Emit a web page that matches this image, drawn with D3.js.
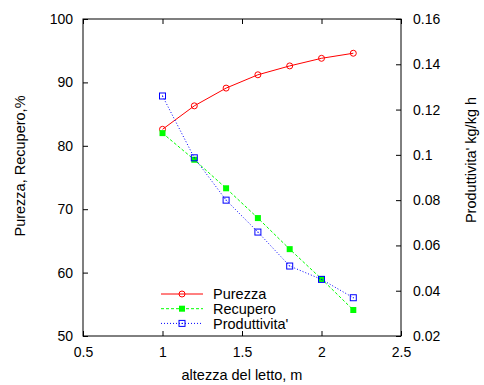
<!DOCTYPE html>
<html>
<head>
<meta charset="utf-8">
<script src="https://cdn.jsdelivr.net/npm/d3@7"></script>
<style>
body { margin: 0; background: #fff; }
text { font-family: "Liberation Sans", Arial, sans-serif; }
</style>
</head>
<body>
<div class="chart"></div>
<script>
var width = 484,
    height = 385;

// altezza del letto (m)
var altezza = [1.0, 1.2, 1.4, 1.6, 1.8, 2.0, 2.2];
// left axis, %
var purezza = [82.6, 86.3, 89.1, 91.2, 92.6, 93.8, 94.6];
var recupero = [82.0, 77.8, 73.3, 68.6, 63.7, 59.0, 54.1];
// right axis, kg/kg h
var produttivita = [0.126, 0.0987, 0.080, 0.0659, 0.0509, 0.045, 0.0369];

var xTicks = [0.5, 1, 1.5, 2, 2.5];
var yTicks = [50, 60, 70, 80, 90, 100];
var y2Ticks = [0.02, 0.04, 0.06, 0.08, 0.1, 0.12, 0.14, 0.16];
var seriesNames = ["Purezza", "Recupero", "Produttivita'"];

// plot box ("top" is taken by window.top)
var pLeft = 83, pRight = 401, pTop = 19, pBottom = 336;
var fs = 14, fsTitle = 14.5;

var svg = d3.select(".chart").append("svg")
    .attr("width", width)
    .attr("height", height);

var x = d3.scaleLinear().domain([0.5, 2.5]).range([pLeft, pRight]);
var y = d3.scaleLinear().domain([50, 100]).range([pBottom, pTop]);
var y2 = d3.scaleLinear().domain([0.02, 0.16]).range([pBottom, pTop]);

function styleAxis(g, showText){
    g.select(".domain").remove();
    g.selectAll("line").attr("stroke", "#000");
    g.selectAll("text").attr("font-size", fs).attr("fill", "#000")
      .style("font-family", "'Liberation Sans', Arial, sans-serif");
    if (!showText) g.selectAll("text").remove();
}

svg.append("g").attr("transform", "translate(0," + pBottom + ")")
    .call(d3.axisBottom(x).tickValues(xTicks).tickSizeInner(-5).tickSizeOuter(0).tickPadding(11).tickFormat(d3.format("~g")))
    .call(styleAxis, true);
svg.append("g").attr("transform", "translate(0," + pTop + ")")
    .call(d3.axisTop(x).tickValues(xTicks).tickSizeInner(-5).tickSizeOuter(0))
    .call(styleAxis, false);
svg.append("g").attr("transform", "translate(" + pLeft + ",0)")
    .call(d3.axisLeft(y).tickValues(yTicks).tickSizeInner(-5).tickSizeOuter(0).tickPadding(10))
    .call(styleAxis, true);
svg.append("g").attr("transform", "translate(" + pRight + ",0)")
    .call(d3.axisRight(y2).tickValues(y2Ticks).tickSizeInner(-5).tickSizeOuter(0).tickPadding(12).tickFormat(d3.format("~g")))
    .call(styleAxis, true);

svg.append("rect")
    .attr("x", pLeft).attr("y", pTop)
    .attr("width", pRight - pLeft).attr("height", pBottom - pTop)
    .attr("fill", "none").attr("stroke", "#000");

// axis titles
svg.append("text")
    .attr("x", 242).attr("y", 380)
    .attr("text-anchor", "middle").attr("font-size", fsTitle)
    .text("altezza del letto, m");
svg.append("text")
    .attr("transform", "translate(25,166) rotate(-90)")
    .attr("text-anchor", "middle").attr("font-size", fsTitle)
    .text("Purezza, Recupero,%");
svg.append("text")
    .attr("transform", "translate(476,160) rotate(-90)")
    .attr("text-anchor", "middle").attr("font-size", fsTitle)
    .text("Produttivita' kg/kg h");

var line = d3.line();

function pts(vals, sc){
    return altezza.map(function(a, i){ return [x(a), sc(vals[i])]; });
}

var series = [
    {name: seriesNames[0], vals: purezza, sc: y, color: "#ff0000", dash: null},
    {name: seriesNames[1], vals: recupero, sc: y, color: "#00ff00", dash: "3,2"},
    {name: seriesNames[2], vals: produttivita, sc: y2, color: "#0000ff", dash: "1,2"}
];

function marker(g, i, color){
    if (i == 0) {
        g.append("circle").attr("r", 3).attr("fill", "none").attr("stroke", color);
    } else if (i == 1) {
        g.append("rect").attr("x", -3).attr("y", -3).attr("width", 6).attr("height", 6).attr("fill", color);
    } else {
        g.append("rect").attr("x", -3).attr("y", -3).attr("width", 6).attr("height", 6)
            .attr("fill", "none").attr("stroke", color);
        g.append("rect").attr("x", -0.5).attr("y", -0.5).attr("width", 1).attr("height", 1).attr("fill", color);
    }
}

series.forEach(function(s, i){
    var p = pts(s.vals, s.sc);
    svg.append("path")
        .attr("d", line(p))
        .attr("fill", "none")
        .attr("stroke", s.color)
        .attr("stroke-width", 1)
        .attr("stroke-dasharray", s.dash);
    p.forEach(function(q){
        var g = svg.append("g").attr("transform", "translate(" + q + ")");
        marker(g, i, s.color);
    });
});

// legend
var legend = svg.append("g");
series.forEach(function(s, i){
    var ly = 294 + i * 14.7;
    legend.append("line")
        .attr("x1", 161).attr("x2", 203)
        .attr("y1", ly).attr("y2", ly)
        .attr("stroke", s.color)
        .attr("stroke-dasharray", s.dash);
    var g = legend.append("g").attr("transform", "translate(182," + ly + ")");
    marker(g, i, s.color);
    legend.append("text")
        .attr("x", 213).attr("y", ly).attr("dy", "0.36em")
        .attr("font-size", fsTitle)
        .text(s.name);
});
</script>
</body>
</html>
